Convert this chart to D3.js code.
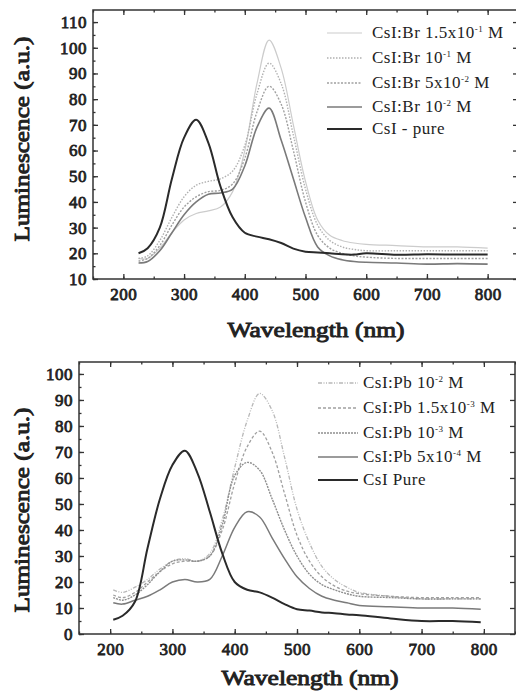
<!DOCTYPE html>
<html>
<head>
<meta charset="utf-8">
<script src="https://cdn.jsdelivr.net/npm/d3@7"></script>
<style>
    body { margin: 0; background: #fff; }
    svg text { font-family: "Liberation Serif", "DejaVu Serif", serif; }
    .tick text { font-size: 17px; fill: #222; stroke: #222; stroke-width: 0.8px; letter-spacing: 0.5px; }
    .axisTitle { font-size: 21px; fill: #222; stroke: #222; stroke-width: 0.9px; }
    .legendText { font-size: 17px; fill: #222; letter-spacing: 0.5px; }
</style>
</head>
<body>
<script>
(function() {

    //top panel (CsI:Br) data
    var brWavelengths = [225,240,260,280,300,320,340,360,380,400,420,440,460,480,500,520,540,560,580,600,650,700,750,800];
    var br15e1 = [18,18,22,28,33,35.5,36.5,38,44,60,86,103,92,70,48,33,27,25,24,23.5,23,22.5,22.5,22];
    var br1e1  = [18,19,25,34,42,46.5,48,49,52,62,82,94,86,66,45,31,25,22.5,21.5,21,21,21,21,21];
    var br5e2  = [17,18,23,31,38,42,44,44.5,47,57,75,85,78,60,40,27,22,20,19,18.5,18,18,18,18];
    var br1e2  = [16.2,16.8,21,28,35,40,43,43.5,45,54,69,76.5,64,49,34,22.5,19,17.5,16.8,16.5,16.2,15.8,16,15.8];
    var brPure = [20,22,30,49,65,72,63,46,34,28,26.5,25.5,24,21.8,20.6,20.3,20,19.6,19.5,20,19.4,19.6,19.5,19.5];

    //bottom panel (CsI:Pb) data
    var pbWavelengths = [205,220,240,260,280,300,320,340,360,380,400,420,440,460,480,500,520,540,560,580,600,650,700,750,795];
    var pb1e2   = [17,16,18,21,25,28,29,28,31,44,64,82,92.5,86,68,48,35,26,21,18,16,14.5,13.5,13.5,13.5];
    var pb15e3  = [15,14,16,20,24,27,28,28,30,40,58,72,78,70,54,38,28,22,18.5,16.5,15.5,14.5,14,14,14];
    var pb1e3   = [14,13,15,19,24,28,28.5,28,30,42,61,66,63,52,40,30,23,19,17,15.5,14.5,14,13.5,13.5,13.5];
    var pb5e4   = [12,11.5,13,14.5,17,20,21,20,21,30,41,47,45,37,29,22,17.5,14.5,13,12,11,10.5,10,10,9.5];
    var pbPure  = [5.5,7,12.5,33,52,65,70.5,62,47,31,20,17,16,14,11.5,9.5,9,8.3,8,7.5,7.2,6,5,5,4.5];

    //axis tick values
    var xTicks = [200,300,400,500,600,700,800];
    var brYTicks = [10,20,30,40,50,60,70,80,90,100,110];
    var pbYTicks = [0,10,20,30,40,50,60,70,80,90,100];

    var width = 516, height = 691;
    var serif = "'Liberation Serif', 'DejaVu Serif', serif";

    var svg = d3.select("body")
        .append("svg")
        .attr("width", width)
        .attr("height", height);

    svg.append("rect")
        .attr("width", width)
        .attr("height", height)
        .attr("fill", "#fff");

    //series styles per panel
    var brSeries = [
        {name: ["CsI:Br 1.5x10", "-1", " M"], values: br15e1, color: "#cccccc", dash: null, w: 1.2},
        {name: ["CsI:Br 10", "-1", " M"], values: br1e1, color: "#b0b0b0", dash: "1.5,1.5", w: 1.4},
        {name: ["CsI:Br 5x10", "-2", " M"], values: br5e2, color: "#a0a0a0", dash: "2,1.5", w: 1.4},
        {name: ["CsI:Br 10", "-2", " M"], values: br1e2, color: "#7a7a7a", dash: null, w: 1.6},
        {name: ["CsI - pure"], values: brPure, color: "#2a2a2a", dash: null, w: 2}
    ];

    var pbSeries = [
        {name: ["CsI:Pb 10", "-2", " M"], values: pb1e2, color: "#b8b8b8", dash: "4,1.5,1,1.5,1,1.5", w: 1.3},
        {name: ["CsI:Pb 1.5x10", "-3", " M"], values: pb15e3, color: "#a0a0a0", dash: "3,2", w: 1.3},
        {name: ["CsI:Pb 10", "-3", " M"], values: pb1e3, color: "#8e8e8e", dash: "2,1", w: 1.4},
        {name: ["CsI:Pb 5x10", "-4", " M"], values: pb5e4, color: "#7a7a7a", dash: null, w: 1.5},
        {name: ["CsI Pure"], values: pbPure, color: "#2a2a2a", dash: null, w: 2}
    ];

    drawPanel({
        left: 93, right: 518, top: 10, bottom: 279,
        yDomain: [10, 114.7], yTicks: brYTicks,
        wavelengths: brWavelengths, series: brSeries,
        legendLineX: [327, 362], legendTextX: 372, legendY: [33, 58, 83, 107, 129],
        xTitleX: 316, xTitleY: 337, yTitleY: 139
    });

    drawPanel({
        left: 79, right: 515, top: 362, bottom: 634,
        yDomain: [0, 104.6], yTicks: pbYTicks,
        wavelengths: pbWavelengths, series: pbSeries,
        legendLineX: [318, 358], legendTextX: 363, legendY: [383, 408, 433, 457, 480],
        xTitleX: 310, xTitleY: 685, yTitleY: 510
    });

    function drawPanel(p) {
        var xScale = d3.scaleLinear()
            .domain([150, 850])
            .range([p.left, p.right]);

        var yScale = d3.scaleLinear()
            .domain(p.yDomain)
            .range([p.bottom, p.top]);

        var g = svg.append("g");

        //clip so lines stay inside frame
        var clipId = "clip" + p.top;
        g.append("clipPath")
            .attr("id", clipId)
            .append("rect")
            .attr("x", p.left)
            .attr("y", p.top)
            .attr("width", p.right - p.left)
            .attr("height", p.bottom - p.top);

        var line = d3.line()
            .x(function(d) { return xScale(d[0]); })
            .y(function(d) { return yScale(d[1]); })
            .curve(d3.curveCatmullRom.alpha(0.5));

        //draw series, pure last so it sits on top
        g.append("g")
            .attr("clip-path", "url(#" + clipId + ")")
            .selectAll(".series")
            .data(p.series)
            .enter()
            .append("path")
            .attr("class", "series")
            .attr("fill", "none")
            .attr("stroke", function(d) { return d.color; })
            .attr("stroke-width", function(d) { return d.w; })
            .attr("stroke-dasharray", function(d) { return d.dash; })
            .attr("d", function(d) {
                return line(p.wavelengths.map(function(w, i) { return [w, d.values[i]]; }));
            });

        var minorX = d3.range(150, 851, 50);
        var minorY = d3.range(p.yDomain[0], p.yDomain[1], 5);

        //bottom axis with labels, ticks inward
        g.append("g")
            .attr("transform", "translate(0," + p.bottom + ")")
            .call(d3.axisBottom(xScale).tickValues(minorX).tickSize(-2.5).tickFormat(""));
        g.append("g")
            .attr("transform", "translate(0," + p.bottom + ")")
            .call(d3.axisBottom(xScale).tickValues(xTicks).tickSize(-5).tickPadding(9).tickFormat(d3.format("d")));

        //top mirror ticks
        g.append("g")
            .attr("transform", "translate(0," + p.top + ")")
            .call(d3.axisTop(xScale).tickValues(minorX).tickSize(-2.5).tickFormat(""));
        g.append("g")
            .attr("transform", "translate(0," + p.top + ")")
            .call(d3.axisTop(xScale).tickValues(xTicks).tickSize(-5).tickFormat(""));

        //left axis with labels
        g.append("g")
            .attr("transform", "translate(" + p.left + ",0)")
            .call(d3.axisLeft(yScale).tickValues(minorY).tickSize(-2.5).tickFormat(""));
        g.append("g")
            .attr("transform", "translate(" + p.left + ",0)")
            .call(d3.axisLeft(yScale).tickValues(p.yTicks).tickSize(-5).tickPadding(6).tickFormat(d3.format("d")));

        //right mirror ticks
        g.append("g")
            .attr("transform", "translate(" + p.right + ",0)")
            .call(d3.axisRight(yScale).tickValues(p.yTicks).tickSize(-5).tickFormat(""));

        g.selectAll(".domain").remove();
        g.selectAll(".tick line").attr("stroke", "#333").attr("stroke-width", 1.3);
        g.selectAll(".tick text").attr("font-family", serif);

        //frame
        g.append("rect")
            .attr("x", p.left)
            .attr("y", p.top)
            .attr("width", p.right - p.left)
            .attr("height", p.bottom - p.top)
            .attr("fill", "none")
            .attr("stroke", "#333")
            .attr("stroke-width", 1.5);

        //legend
        var legend = g.selectAll(".legendItem")
            .data(p.series)
            .enter()
            .append("g")
            .attr("class", "legendItem");

        legend.append("line")
            .attr("x1", p.legendLineX[0])
            .attr("x2", p.legendLineX[1])
            .attr("y1", function(d, i) { return p.legendY[i]; })
            .attr("y2", function(d, i) { return p.legendY[i]; })
            .attr("stroke", function(d) { return d.color; })
            .attr("stroke-width", function(d) { return d.w; })
            .attr("stroke-dasharray", function(d) { return d.dash; });

        var label = legend.append("text")
            .attr("class", "legendText")
            .attr("font-family", serif)
            .attr("x", p.legendTextX)
            .attr("y", function(d, i) { return p.legendY[i] + 5; });

        label.each(function(d) {
            var t = d3.select(this);
            t.append("tspan").text(d.name[0]);
            if (d.name.length > 1) {
                t.append("tspan").attr("dy", -6).attr("font-size", "9px").text(d.name[1]);
                t.append("tspan").attr("dy", 6).text(d.name[2]);
            }
        });

        //axis titles
        svg.append("text")
            .attr("class", "axisTitle")
            .attr("font-family", serif)
            .attr("x", p.xTitleX)
            .attr("y", p.xTitleY)
            .attr("text-anchor", "middle")
            .attr("textLength", 177)
            .attr("lengthAdjust", "spacingAndGlyphs")
            .text("Wavelength (nm)");

        svg.append("text")
            .attr("class", "axisTitle")
            .attr("font-family", serif)
            .attr("transform", "translate(29," + p.yTitleY + ") rotate(-90)")
            .attr("text-anchor", "middle")
            .attr("textLength", 205)
            .attr("lengthAdjust", "spacingAndGlyphs")
            .text("Luminescence (a.u.)");
    }

})();
</script>
</body>
</html>
